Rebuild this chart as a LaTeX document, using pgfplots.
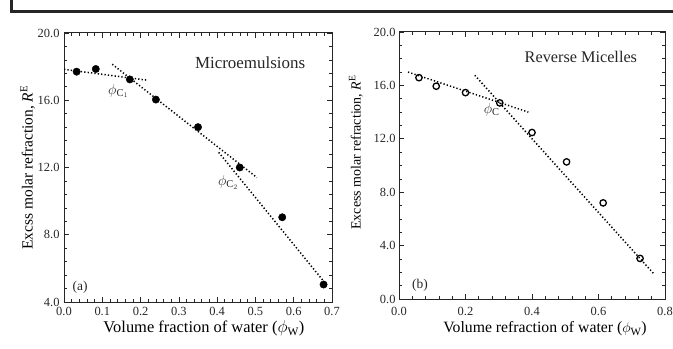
\documentclass[border=0pt]{standalone}
\usepackage{fontspec}
\setmainfont{Liberation Serif}
\usepackage{pgfplots}
\pgfplotsset{compat=1.18}
\begin{document}
\begin{tikzpicture}[x=1bp,y=1bp]
\useasboundingbox (0,0) rectangle (673,348);
\draw[line width=2.6bp,black!85] (11.3,348) -- (11.3,336.7) -- (673,336.7);
\pgfplotsset{
  myax/.style={
    scale only axis,
    anchor=south west,
    axis line style={line width=1bp,black!85},
    every tick/.style={black!85,line width=0.7bp},
    major tick length=5bp, minor tick length=3bp,
    tick label style={font=\fontsize{12.5}{14}\selectfont,black!85},
    /pgf/number format/assume math mode=true,
    /pgf/number format/fixed, /pgf/number format/fixed zerofill,
    /pgf/number format/precision=1,
    label style={black!85},
    scaled ticks=false,
  },
  dots/.style={line width=1.5bp, dash pattern=on 1.3bp off 2.1bp, black},
}
% ---------- panel (a)
\begin{axis}[myax,
  at={(64bp,46bp)}, width=268bp, height=269bp,
  xmin=0, xmax=0.7, ymin=4, ymax=20,
  xtick={0,0.1,...,0.7}, ytick={4,8,12,16,20},
  minor x tick num=4, minor y tick num=4,
  x tick label style={yshift=-1.5bp},
  y tick label style={xshift=-1bp},
  xlabel={Volume fraction of water ($\phi_{\mathrm{W}}$)},
  ylabel={Excss molar refraction, \textit{R}\textsuperscript{E}},
  every axis x label/.style={at={(rel axis cs:0.522,-0.115)},anchor=base,inner sep=0pt,font=\fontsize{16.5}{18}\selectfont},
  every axis y label/.style={at={(rel axis cs:-0.136,0.5)},anchor=center,rotate=90,font=\fontsize{15.5}{17}\selectfont},
]
\addplot[dots] coordinates {(0,17.84) (0.215,17.2)};
\addplot[dots] coordinates {(0.126,18.14) (0.504,11.4)};
\addplot[dots] coordinates {(0.404,12.9) (0.683,5.1)};
\addplot[only marks, mark=*, mark size=3.7bp, mark options={fill=black,draw=black}] coordinates {
(0.033,17.7) (0.083,17.86) (0.172,17.24) (0.24,16.04) (0.35,14.4) (0.459,12.0) (0.57,9.04) (0.678,5.04)};
\node[font=\fontsize{17}{19}\selectfont,black!85] at (axis cs:0.486,18.22) {Microemulsions};
\node[font=\fontsize{13.5}{15}\selectfont,black!85] at (axis cs:0.042,4.89) {(a)};
\node[font=\fontsize{15}{17}\selectfont,black!85] at (axis cs:0.142,16.55) {$\phi_{\mathrm{C}_1}$};
\node[font=\fontsize{15}{17}\selectfont,black!85] at (axis cs:0.429,11.1) {$\phi_{\mathrm{C}_2}$};
\end{axis}
% ---------- panel (b)
\begin{axis}[myax,
  at={(399bp,49bp)}, width=266bp, height=267bp,
  xmin=0, xmax=0.8, ymin=0, ymax=20,
  xtick={0,0.2,...,0.8}, ytick={0,4,...,20},
  minor x tick num=4, minor y tick num=3,
  x tick label style={yshift=-5bp},
  xlabel={Volume refraction of water ($\phi_{\mathrm{W}}$)},
  ylabel={Excess molar refraction, \textit{R}\textsuperscript{E}},
  every axis x label/.style={at={(rel axis cs:0.549,-0.127)},anchor=base,inner sep=0pt,font=\fontsize{15.8}{18}\selectfont},
  every axis y label/.style={at={(rel axis cs:-0.162,0.549)},anchor=center,rotate=90,font=\fontsize{14}{16}\selectfont},
]
\addplot[dots] coordinates {(0.027,17.0) (0.389,14.0)};
\addplot[dots] coordinates {(0.228,16.76) (0.765,1.92)};
\addplot[only marks, mark=o, mark size=3.2bp, mark options={draw=black,line width=1.3bp}] coordinates {
(0.060,16.58) (0.112,15.94) (0.2,15.46) (0.303,14.69) (0.40,12.47) (0.504,10.27) (0.614,7.2) (0.725,3.04)};
\node[font=\fontsize{16.3}{18}\selectfont,black!85] at (axis cs:0.547,18.13) {Reverse Micelles};
\node[font=\fontsize{13.5}{15}\selectfont,black!85] at (axis cs:0.063,1.05) {(b)};
\node[font=\fontsize{15}{17}\selectfont,black!85] at (axis cs:0.279,14.2) {$\phi_{\mathrm{C}}$};
\end{axis}
\end{tikzpicture}
\end{document}
